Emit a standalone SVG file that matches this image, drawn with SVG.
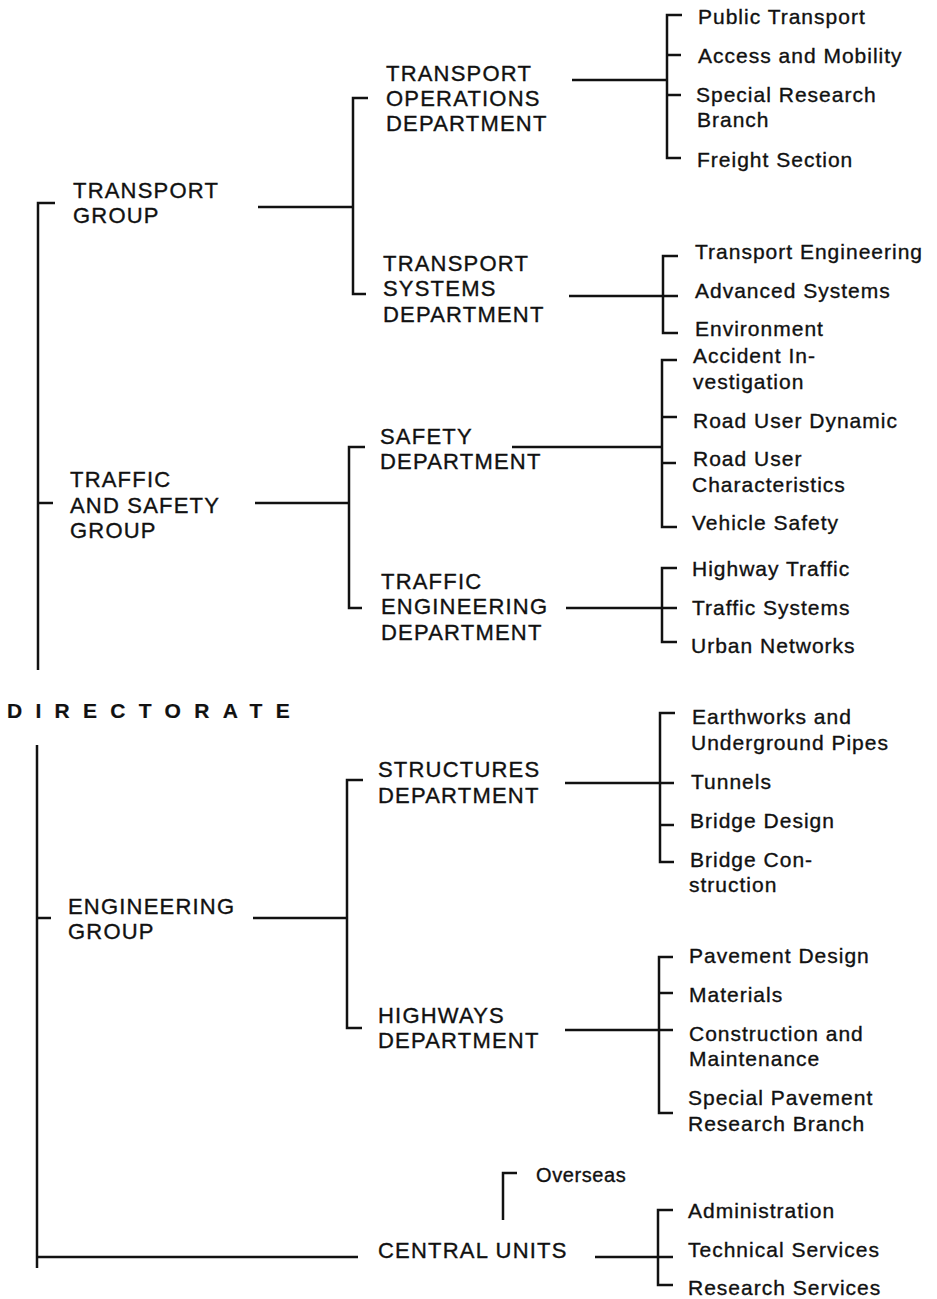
<svg xmlns="http://www.w3.org/2000/svg" width="937" height="1299" viewBox="0 0 937 1299">
<style>
text{font-family:"Liberation Sans",Arial,sans-serif;fill:#111;stroke:#111;stroke-width:0.35px}
.u{font-size:22px;letter-spacing:1.2px}
.t{font-size:21px;letter-spacing:1px}
.o{font-size:20px;letter-spacing:0.6px}
.d{font-size:21px;font-weight:bold;letter-spacing:13.3px;stroke-width:0.2px}
.c path{fill:none;stroke:#111;stroke-width:2.5;stroke-linecap:butt;stroke-linejoin:miter}
</style>
<rect width="937" height="1299" fill="#fff"/>
<g class="c" id="connectors">
<path d="M55,203 H38 V670"/>
<path d="M53,503 H38"/>
<path d="M37,745 V1268"/>
<path d="M51,918 H37"/>
<path d="M37,1257 H358"/>
<path d="M258,207 H353"/>
<path d="M368,98 H353 V294 H366"/>
<path d="M572,80 H667"/>
<path d="M682,15 H667 V158 H681"/>
<path d="M667,55 H681 M667,95 H681"/>
<path d="M569,296 H678"/>
<path d="M678,256 H663 V333 H678"/>
<path d="M255,503 H349"/>
<path d="M365,447 H349 V608 H362"/>
<path d="M512,447 H662"/>
<path d="M677,360 H662 V527 H677"/>
<path d="M662,417 H677 M662,463 H676"/>
<path d="M566,608 H677"/>
<path d="M677,568 H662 V642 H677"/>
<path d="M253,918 H347"/>
<path d="M363,780 H347 V1028 H362"/>
<path d="M565,783 H674"/>
<path d="M675,713 H660 V862 H674"/>
<path d="M660,825 H674"/>
<path d="M565,1030 H673"/>
<path d="M673,957 H659 V1113 H673"/>
<path d="M659,993 H673"/>
<path d="M517,1173 H503 V1220"/>
<path d="M595,1257 H673"/>
<path d="M673,1210 H658 V1285 H673"/>
</g>
<g id="directorate"><text class="d" x="7" y="718">DIRECTORATE</text></g>
<g id="transport-group"><text class="u" x="73" y="198">TRANSPORT</text><text class="u" x="73" y="223">GROUP</text></g>
<g id="traffic-safety-group"><text class="u" x="70" y="487">TRAFFIC</text><text class="u" x="70" y="513">AND SAFETY</text><text class="u" x="70" y="538">GROUP</text></g>
<g id="engineering-group"><text class="u" x="68" y="914">ENGINEERING</text><text class="u" x="68" y="939">GROUP</text></g>
<g id="central-units"><text class="u" x="378" y="1258">CENTRAL UNITS</text></g>
<g id="overseas"><text class="o" x="536" y="1182">Overseas</text></g>
<g id="transport-operations"><text class="u" x="386" y="81">TRANSPORT</text><text class="u" x="386" y="106">OPERATIONS</text><text class="u" x="386" y="131">DEPARTMENT</text></g>
<g id="transport-systems"><text class="u" x="383" y="271">TRANSPORT</text><text class="u" x="383" y="296">SYSTEMS</text><text class="u" x="383" y="322">DEPARTMENT</text></g>
<g id="safety"><text class="u" x="380" y="444">SAFETY</text><text class="u" x="380" y="469">DEPARTMENT</text></g>
<g id="traffic-engineering"><text class="u" x="381" y="589">TRAFFIC</text><text class="u" x="381" y="614">ENGINEERING</text><text class="u" x="381" y="640">DEPARTMENT</text></g>
<g id="structures"><text class="u" x="378" y="777">STRUCTURES</text><text class="u" x="378" y="803">DEPARTMENT</text></g>
<g id="highways"><text class="u" x="378" y="1023">HIGHWAYS</text><text class="u" x="378" y="1048">DEPARTMENT</text></g>
<g id="public-transport"><text class="t" x="698" y="24">Public Transport</text></g>
<g id="access-mobility"><text class="t" x="698" y="63">Access and Mobility</text></g>
<g id="special-research"><text class="t" x="696" y="102">Special Research</text><text class="t" x="697" y="127">Branch</text></g>
<g id="freight"><text class="t" x="697" y="167">Freight Section</text></g>
<g id="transport-engineering"><text class="t" x="695" y="259">Transport Engineering</text></g>
<g id="advanced-systems"><text class="t" x="695" y="298">Advanced Systems</text></g>
<g id="environment"><text class="t" x="695" y="336">Environment</text></g>
<g id="accident"><text class="t" x="693" y="363">Accident In-</text><text class="t" x="693" y="389">vestigation</text></g>
<g id="road-user-dynamic"><text class="t" x="693" y="428">Road User Dynamic</text></g>
<g id="road-user-char"><text class="t" x="693" y="466">Road User</text><text class="t" x="692" y="492">Characteristics</text></g>
<g id="vehicle-safety"><text class="t" x="692" y="530">Vehicle Safety</text></g>
<g id="highway-traffic"><text class="t" x="692" y="576">Highway Traffic</text></g>
<g id="traffic-systems"><text class="t" x="692" y="615">Traffic Systems</text></g>
<g id="urban-networks"><text class="t" x="691" y="653">Urban Networks</text></g>
<g id="earthworks"><text class="t" x="692" y="724">Earthworks and</text><text class="t" x="691" y="750">Underground Pipes</text></g>
<g id="tunnels"><text class="t" x="691" y="789">Tunnels</text></g>
<g id="bridge-design"><text class="t" x="690" y="828">Bridge Design</text></g>
<g id="bridge-construction"><text class="t" x="690" y="867">Bridge Con-</text><text class="t" x="689" y="892">struction</text></g>
<g id="pavement-design"><text class="t" x="689" y="963">Pavement  Design</text></g>
<g id="materials"><text class="t" x="689" y="1002">Materials</text></g>
<g id="construction-maintenance"><text class="t" x="689" y="1041">Construction  and</text><text class="t" x="689" y="1066">Maintenance</text></g>
<g id="special-pavement"><text class="t" x="688" y="1105">Special  Pavement</text><text class="t" x="688" y="1131">Research Branch</text></g>
<g id="administration"><text class="t" x="688" y="1218">Administration</text></g>
<g id="technical-services"><text class="t" x="688" y="1257">Technical Services</text></g>
<g id="research-services"><text class="t" x="688" y="1295">Research Services</text></g>
</svg>
